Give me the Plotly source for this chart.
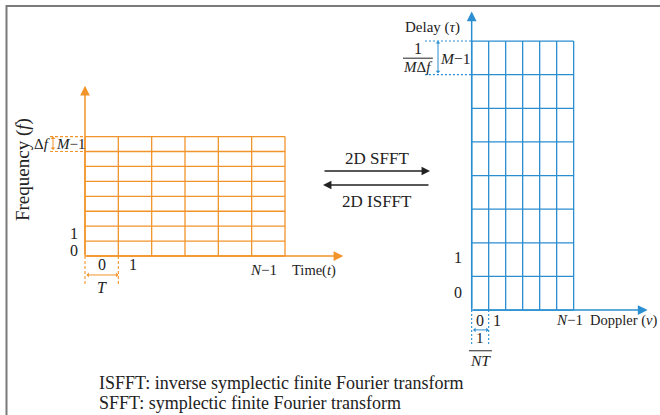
import plotly.graph_objects as go

# ---- data ----
TF_COLS = 6   # time-frequency grid: N columns (time slots)
TF_ROWS = 8   # M rows (subcarriers)
DD_COLS = 6   # delay-Doppler grid: N columns (Doppler bins)
DD_ROWS = 8   # M rows (delay bins)
tf_xticks = ["0", "1", "<i>N</i>−1"]
tf_yticks = ["0", "1"]
dd_xticks = ["0", "1", "<i>N</i>−1"]
dd_yticks = ["0", "1"]
notes = ["ISFFT: inverse symplectic finite Fourier transform",
         "SFFT: symplectic finite Fourier transform"]

ORANGE = "#F2942A"
BLUE = "#2A8ED0"
DARK = "#222222"
FONT = "Liberation Serif, Times New Roman, serif"
W, H = 660, 415


def grid_xy(ncols, nrows):
    xs, ys = [], []
    for c in range(ncols + 1):
        xs += [c, c, None]
        ys += [0, nrows, None]
    for r in range(nrows + 1):
        xs += [0, ncols, None]
        ys += [r, r, None]
    return xs, ys


fig = go.Figure()

# left grid (time-frequency)
gx, gy = grid_xy(TF_COLS, TF_ROWS)
fig.add_trace(go.Scatter(x=gx, y=gy, mode="lines", line=dict(color=ORANGE, width=1.3),
                         xaxis="x", yaxis="y", hoverinfo="skip"))
# dashed guides left
fig.add_trace(go.Scatter(x=[-1.05, 0, None, -1.05, 0, None, 0, 0, None, 1, 1],
                         y=[TF_ROWS, TF_ROWS, None, TF_ROWS - 1, TF_ROWS - 1, None, 0, -1.95, None, 0, -1.95],
                         mode="lines", line=dict(color=ORANGE, width=1.1, dash="3px,2px"),
                         xaxis="x", yaxis="y", hoverinfo="skip"))

# right grid (delay-Doppler)
gx2, gy2 = grid_xy(DD_COLS, DD_ROWS)
fig.add_trace(go.Scatter(x=gx2, y=gy2, mode="lines", line=dict(color=BLUE, width=1.3),
                         xaxis="x2", yaxis="y2", hoverinfo="skip"))
fig.add_trace(go.Scatter(x=[-2.75, 0, None, -2.75, 0, None, 0, 0, None, 1, 1],
                         y=[DD_ROWS, DD_ROWS, None, DD_ROWS - 1, DD_ROWS - 1, None, 0, -1.05, None, 0, -1.05],
                         mode="lines", line=dict(color=BLUE, width=1.1, dash="2px,2px"),
                         xaxis="x2", yaxis="y2", hoverinfo="skip"))
# fraction bars
fig.add_trace(go.Scatter(x=[-4.04, -2.28, None, -0.16, 1.19], y=[7.49, 7.49, None, -1.21, -1.21],
                         mode="lines", line=dict(color=DARK, width=1),
                         xaxis="x2", yaxis="y2", hoverinfo="skip"))

ann = []


def txt(x, y, s, ax="x", ay="y", size=14, anchor="center", color=DARK, angle=0):
    ann.append(dict(x=x, y=y, xref=ax, yref=ay, text=s, showarrow=False, xanchor=anchor,
                    yanchor="middle", textangle=angle,
                    font=dict(family=FONT, size=size, color=color)))


def arrow(x0, y0, x1, y1, xr, yr, color, width=1.5, head=2, size=1.5, side="end"):
    ann.append(dict(x=x1, y=y1, ax=x0, ay=y0, xref=xr, yref=yr, axref=xr, ayref=yr,
                    text="", showarrow=True, arrowhead=head, arrowsize=size,
                    arrowwidth=width, arrowcolor=color, arrowside=side, standoff=0, startstandoff=0))


# left axes
arrow(0, 0, 7.75, 0, "x", "y", ORANGE, 1.5, 2, 1.3)
arrow(0, 0, 0, 11.4, "x", "y", ORANGE, 1.5, 2, 1.3)
arrow(-0.96, TF_ROWS - 1, -0.96, TF_ROWS, "x", "y", ORANGE, 1.0, 1, 0.8, "end+start")
arrow(0, -1.27, 1, -1.27, "x", "y", ORANGE, 1.0, 1, 0.8, "end+start")
txt(-1.86, 5.76, "Frequency (<i>f</i>)", size=19, angle=-90)
txt(-1.0, 7.5, "Δ<i>f</i>", size=15, anchor="right")
txt(-0.45, 7.5, "<i>M</i>−1", size=15)
txt(-0.33, 1.54, tf_yticks[1], size=16)
txt(-0.33, 0.4, tf_yticks[0], size=16)
txt(0.5, -0.6, tf_xticks[0], size=16)
txt(1.44, -0.6, tf_xticks[1], size=16)
txt(5.34, -0.94, tf_xticks[2], size=15)
txt(6.15, -0.94, "Time(<i>t</i>)", size=14.5, anchor="left")
txt(0.5, -2.14, "<i>T</i>", size=16)

# right axes
arrow(0, 0, 10.35, 0, "x2", "y2", BLUE, 1.5, 2, 1.3)
arrow(0, 0, 0, 8.88, "x2", "y2", BLUE, 1.5, 2, 1.3)
arrow(-1.98, DD_ROWS - 1, -1.98, DD_ROWS, "x2", "y2", BLUE, 1.0, 1, 0.8, "end+start")
arrow(0, -0.59, 1, -0.59, "x2", "y2", BLUE, 1.0, 1, 0.8, "end+start")
txt(-2.28, 8.39, "Delay (<i>τ</i>)", "x2", "y2", size=15)
txt(-3.16, 7.79, "1", "x2", "y2", size=16)
txt(-3.16, 7.23, "<i>M</i>Δ<i>f</i>", "x2", "y2", size=15)
txt(-0.98, 7.49, "<i>M</i>−1", "x2", "y2", size=15.5)
txt(-0.8, 1.55, dd_yticks[1], "x2", "y2", size=16)
txt(-0.8, 0.51, dd_yticks[0], "x2", "y2", size=16)
txt(0.49, -0.3, dd_xticks[0], "x2", "y2", size=16)
txt(1.49, -0.3, dd_xticks[1], "x2", "y2", size=16)
txt(5.78, -0.3, dd_xticks[2], "x2", "y2", size=15)
txt(6.84, -0.3, "Doppler (<i>v</i>)", "x2", "y2", size=14.5, anchor="left")
txt(0.5, -0.83, "1", "x2", "y2", size=15)
txt(0.5, -1.5, "<i>NT</i>", "x2", "y2", size=15.5)

# middle transform arrows (paper)
ann.append(dict(x=430 / W, y=1 - 171 / H, xref="paper", yref="paper", ax=-107, ay=0,
                text="", showarrow=True, arrowhead=2, arrowsize=1.3, arrowwidth=1.3,
                arrowcolor=DARK, standoff=0))
ann.append(dict(x=323 / W, y=1 - 185 / H, xref="paper", yref="paper", ax=107, ay=0,
                text="", showarrow=True, arrowhead=2, arrowsize=1.3, arrowwidth=1.3,
                arrowcolor=DARK, standoff=0))
txt(377 / W, 1 - 158 / H, "2D SFFT", "paper", "paper", size=17)
txt(377 / W, 1 - 201 / H, "2D ISFFT", "paper", "paper", size=17)

# footnotes
txt(97 / W, 1 - 383 / H, notes[0], "paper", "paper", size=18, anchor="left")
txt(97 / W, 1 - 403 / H, notes[1], "paper", "paper", size=18, anchor="left")

# frame
shapes = [
    dict(type="line", xref="paper", yref="paper", x0=6 / W, x1=1, y0=1 - 6 / H, y1=1 - 6 / H,
         line=dict(color="#7a7a7a", width=2)),
    dict(type="line", xref="paper", yref="paper", x0=6.5 / W, x1=6.5 / W, y0=0, y1=1 - 5 / H,
         line=dict(color="#7a7a7a", width=2)),
]

hid = dict(visible=False, showgrid=False, zeroline=False, fixedrange=True)
fig.update_layout(
    width=W, height=H, margin=dict(l=0, r=0, t=0, b=0),
    paper_bgcolor="white", plot_bgcolor="rgba(0,0,0,0)", showlegend=False,
    xaxis=dict(hid, domain=[0, 1], range=[-2.55, 17.25], anchor="y"),
    yaxis=dict(hid, domain=[0, 1], range=[-10.65, 17.15], anchor="x"),
    xaxis2=dict(hid, domain=[0, 1], range=[-27.75, 11.08], anchor="y2"),
    yaxis2=dict(hid, domain=[0, 1], range=[-3.12, 9.22], anchor="x2"),
    annotations=ann, shapes=shapes,
)

fig.write_html("out.html", config={"staticPlot": True},
               post_script="document.body.style.margin='0';document.body.style.overflow='hidden';")
